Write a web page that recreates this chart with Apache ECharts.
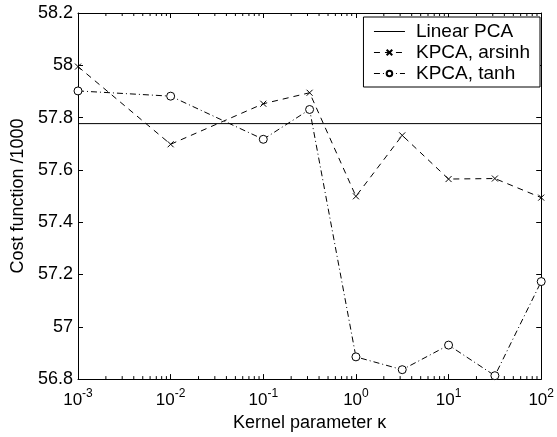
<!DOCTYPE html>
<html>
<head>
<meta charset="utf-8">
<script src="https://cdn.jsdelivr.net/npm/echarts@6/dist/echarts.min.js"></script>
<style>
html,body{margin:0;padding:0;background:#fff;}
#chart{width:557px;height:437px;}
</style>
</head>
<body>
<div id="chart"></div>
<script>
// 核参数 kappa（对数轴）
var kappa = [0.001, 0.01, 0.1, 0.3162, 1, 3.162, 10, 31.62, 100];
// 代价函数 /1000
var arsinhCost = [57.995, 57.698, 57.853, 57.895, 57.499, 57.732, 57.565, 57.567, 57.494];
var tanhCost = [57.902, 57.882, 57.717, 57.831, 56.885, 56.836, 56.930, 56.813, 57.173];
var linearCost = 57.777;
var seriesNames = ['Linear PCA', 'KPCA, arsinh', 'KPCA, tanh'];
var yMin = 56.8, yMax = 58.2, yStep = 0.2;
var xMin = 0.001, xMax = 100;

var font = 'Liberation Sans';

// 对数轴的次刻度 2..9 x 10^k
var minorTicks = [];
for (var k = -3; k < 2; k++) {
	for (var m = 2; m < 10; m++) {
		minorTicks.push([m * Math.pow(10, k), yMin]);
	}
}

function pairs(xs, ys) {
	var out = [];
	for (var i = 0; i < xs.length; i++) out.push([xs[i], ys[i]]);
	return out;
}

var axisLine = {show: true, lineStyle: {color: '#000', width: 1}};
var tickIn = {show: true, inside: true, length: 5, lineStyle: {color: '#000', width: 1}};

var option = {
	animation: false,
	backgroundColor: '#fff',
	textStyle: {fontFamily: font},
	grid: {left: 78, right: 13, top: 13, bottom: 56},
	legend: {
		data: [
			// 实线图例不显示标记
			{name: seriesNames[0], itemStyle: {color: 'rgba(0,0,0,0)', borderColor: 'rgba(0,0,0,0)', borderWidth: 0}},
			{name: seriesNames[1]},
			{name: seriesNames[2]}
		],
		orient: 'vertical',
		right: 17,
		top: 17,
		itemWidth: 31,
		itemHeight: 7,
		itemGap: 2,
		padding: [5, 10, 4, 10],
		borderColor: '#000',
		borderWidth: 1,
		borderRadius: 0,
		backgroundColor: '#fff',
		lineStyle: {width: 1},
		textStyle: {fontFamily: font, fontSize: 19, color: '#000', padding: [0, 0, 0, 6]}
	},
	xAxis: [{
		type: 'log',
		logBase: 10,
		min: xMin,
		max: xMax,
		name: 'Kernel parameter \u03ba',
		nameLocation: 'middle',
		nameGap: 29,
		nameTextStyle: {fontFamily: font, fontSize: 18, color: '#000'},
		axisLine: axisLine,
		axisTick: tickIn,
		splitLine: {show: false},
		axisLabel: {
			margin: 9,
			color: '#000',
			formatter: function (v) {
				var e = Math.round(Math.log(v) / Math.LN10);
				return '{b|10}{s|' + e + '}';
			},
			rich: {
				b: {fontFamily: font, fontSize: 17, color: '#000', lineHeight: 21, verticalAlign: 'bottom'},
				s: {fontFamily: font, fontSize: 12, color: '#000', lineHeight: 11, verticalAlign: 'top'}
			}
		}
	}, {
		type: 'log',
		logBase: 10,
		min: xMin,
		max: xMax,
		position: 'top',
		axisLine: axisLine,
		axisTick: tickIn,
		axisLabel: {show: false},
		splitLine: {show: false}
	}],
	yAxis: [{
		type: 'value',
		min: yMin,
		max: yMax,
		interval: yStep,
		name: 'Cost function /1000',
		nameLocation: 'middle',
		nameGap: 47,
		nameTextStyle: {fontFamily: font, fontSize: 18, color: '#000'},
		axisLine: axisLine,
		axisTick: tickIn,
		splitLine: {show: false},
		axisLabel: {margin: 5, fontFamily: font, fontSize: 18, color: '#000'}
	}, {
		type: 'value',
		min: yMin,
		max: yMax,
		interval: yStep,
		position: 'right',
		axisLine: axisLine,
		axisTick: tickIn,
		axisLabel: {show: false},
		splitLine: {show: false}
	}],
	series: [{
		name: seriesNames[0],
		type: 'line',
		data: [[xMin, linearCost], [xMax, linearCost]],
		symbol: 'none',
		lineStyle: {color: '#000', width: 1, type: 'solid'},
		itemStyle: {color: '#000'}
	}, {
		name: seriesNames[1],
		type: 'line',
		data: pairs(kappa, arsinhCost),
		symbol: 'path://M0,0L10,10M10,0L0,10',
		symbolSize: 6,
		showAllSymbol: true,
		lineStyle: {color: '#000', width: 1, type: [6, 5]},
		itemStyle: {color: 'none', borderColor: '#000', borderWidth: 1}
	}, {
		name: seriesNames[2],
		type: 'line',
		data: pairs(kappa, tanhCost),
		symbol: 'circle',
		symbolSize: 8,
		showAllSymbol: true,
		lineStyle: {color: '#000', width: 1, type: [6, 3, 1, 3]},
		itemStyle: {color: '#fff', borderColor: '#000', borderWidth: 1}
	}, {
		// 次刻度（上下两边）
		type: 'custom',
		silent: true,
		data: minorTicks,
		encode: {x: 0, y: 1},
		clip: false,
		renderItem: function (params, api) {
			var cs = params.coordSys;
			var x = api.coord([api.value(0), yMin])[0];
			var yb = cs.y + cs.height;
			return {
				type: 'group',
				children: [
					{type: 'line', shape: {x1: x, y1: yb, x2: x, y2: yb - 3}, style: {stroke: '#000', lineWidth: 1}},
					{type: 'line', shape: {x1: x, y1: cs.y, x2: x, y2: cs.y + 3}, style: {stroke: '#000', lineWidth: 1}}
				]
			};
		}
	}]
};

var chart = echarts.init(document.getElementById('chart'));
chart.setOption(option);
</script>
</body>
</html>
